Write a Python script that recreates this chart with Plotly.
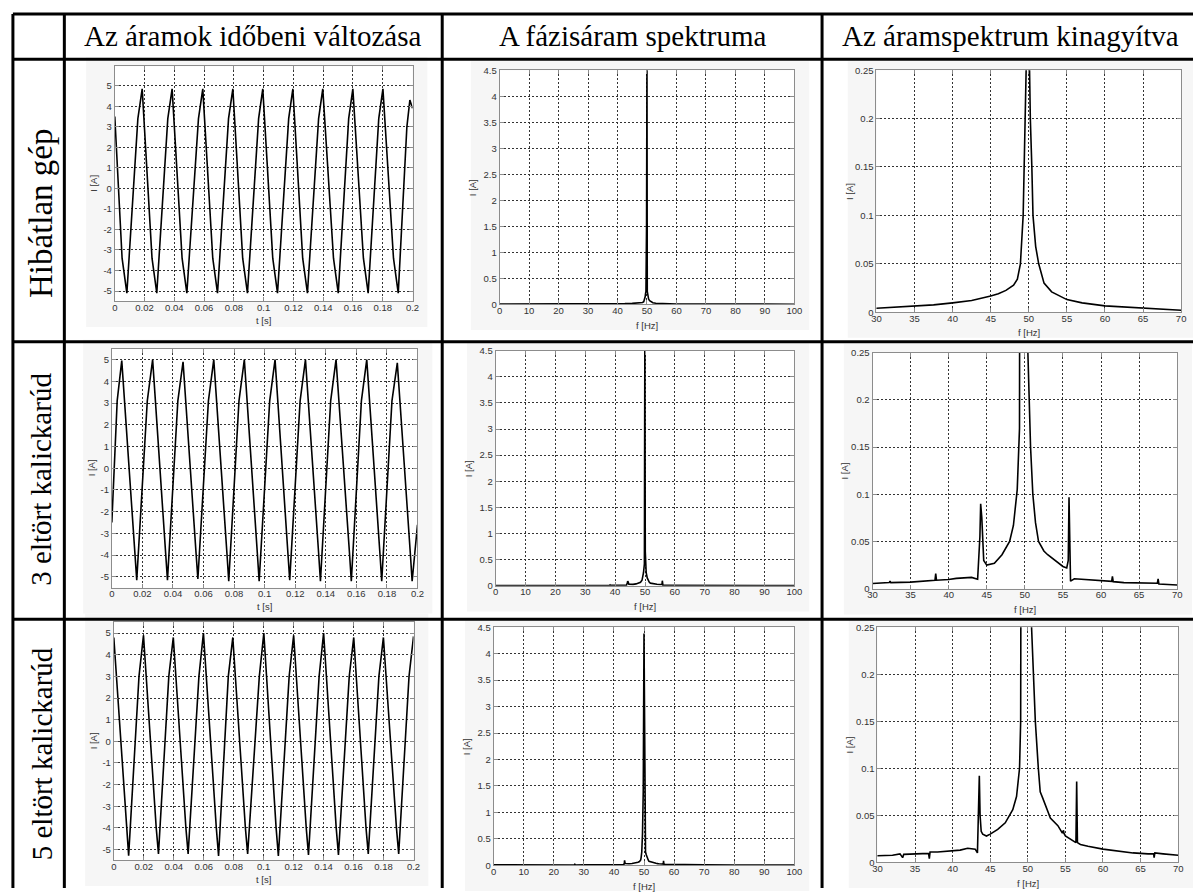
import plotly.graph_objects as go

# ---------------- data ----------------
row_labels = ["Hibátlan gép", "3 eltört kalickarúd", "5 eltört kalickarúd"]
col_headers = ["Az áramok időbeni változása", "A fázisáram spektruma", "Az áramspektrum kinagyítva"]

# time signals (vertices)
t1 = [0, 0.0049, 0.0081,
      0.0155, 0.0184, 0.0250, 0.0282,
      0.0356, 0.0385, 0.0452, 0.0484,
      0.0562, 0.0591, 0.0658, 0.0690,
      0.0764, 0.0793, 0.0859, 0.0891,
      0.0966, 0.0994, 0.1061, 0.1093,
      0.1168, 0.1196, 0.1262, 0.1294,
      0.1369, 0.1397, 0.1469, 0.1501,
      0.1571, 0.1599, 0.1670, 0.1702,
      0.1773, 0.1801, 0.1872, 0.1904,
      0.1962, 0.1982, 0.2]
i1 = [3.5, -3.4, -5.1,
      3.4, 4.85, -3.4, -5.1,
      3.4, 4.85, -3.4, -5.1,
      3.4, 4.85, -3.4, -5.1,
      3.4, 4.85, -3.4, -5.1,
      3.4, 4.85, -3.4, -5.1,
      3.4, 4.85, -3.4, -5.1,
      3.4, 4.85, -3.4, -5.1,
      3.4, 4.85, -3.4, -5.1,
      3.4, 4.85, -3.4, -5.1,
      3.0, 4.3, 3.9]

t2 = [0, 0.0035, 0.0065,
      0.0151, 0.0163, 0.0232, 0.0267,
      0.0352, 0.0364, 0.0432, 0.0466,
      0.0551, 0.0563, 0.0632, 0.0667,
      0.0753, 0.0765, 0.0832, 0.0867,
      0.0952, 0.0964, 0.1033, 0.1068,
      0.1152, 0.1164, 0.1232, 0.1267,
      0.1353, 0.1365, 0.1432, 0.1467,
      0.1555, 0.1567, 0.1633, 0.1668,
      0.1754, 0.1766, 0.1833, 0.1868,
      0.1953, 0.1965, 0.2]
i2 = [-2.5, 3.1, 4.95,
      -3.9, -5.15, 3.1, 5.0,
      -3.9, -5.15, 3.1, 4.9,
      -3.9, -5.1, 3.1, 5.0,
      -3.9, -5.2, 3.1, 5.0,
      -3.9, -5.2, 3.1, 5.0,
      -3.9, -5.15, 3.1, 5.0,
      -3.9, -5.2, 3.1, 5.0,
      -3.9, -5.2, 3.1, 5.0,
      -3.9, -5.2, 3.1, 4.85,
      -3.9, -5.2, -2.6]

t3 = [0, 0.0084, 0.0099,
      0.0168, 0.0198, 0.0283, 0.0298,
      0.0367, 0.0397, 0.0481, 0.0496,
      0.0568, 0.0598, 0.0684, 0.0699,
      0.0764, 0.0794, 0.0878, 0.0893,
      0.0971, 0.1001, 0.1083, 0.1098,
      0.1170, 0.1200, 0.1284, 0.1299,
      0.1370, 0.1400, 0.1484, 0.1499,
      0.1571, 0.1601, 0.1683, 0.1698,
      0.1769, 0.1799, 0.1886, 0.1901,
      0.1970, 0.2]
i3 = [4.8, -4.0, -5.28,
      3.0, 4.9, -4.0, -5.2,
      3.0, 4.8, -4.0, -5.2,
      3.0, 5.0, -4.0, -5.3,
      3.0, 4.8, -4.0, -5.2,
      3.0, 5.0, -4.0, -5.3,
      3.0, 4.9, -4.0, -5.25,
      3.0, 5.0, -4.0, -5.25,
      3.0, 4.8, -4.0, -5.2,
      3.0, 4.8, -4.0, -5.2,
      3.0, 4.85]

# spectra (frequency [Hz], amplitude [A])
f1 = [0, 10, 20, 30, 35, 37.5, 40, 42.5, 45, 46, 47, 48, 48.5, 48.9, 49.26, 49.4, 49.5,
      49.65, 49.85, 50.0, 50.1, 50.2, 50.4, 50.55, 50.9, 51.3, 52, 53, 55, 57, 60, 65, 70, 80, 90, 100]
a1 = [0.004, 0.003, 0.003, 0.004, 0.006, 0.0075, 0.0096, 0.012, 0.0167, 0.019, 0.0225, 0.028, 0.034, 0.05, 0.1, 0.15, 0.2,
      0.25, 1.5, 4.75, 0.25, 0.2, 0.15, 0.1, 0.068, 0.05, 0.03, 0.021, 0.013, 0.0096, 0.0065, 0.004, 0.002, 0.002, 0.002, 0.002]

f2 = [0, 10, 20, 30, 32.2, 32.3, 32.4, 35, 38.2, 38.3, 38.4, 40, 41, 43, 43.8,
      44.1, 44.2, 44.35, 44.6, 45, 46, 47, 48, 48.5, 49, 49.3, 49.5, 49.8, 49.95, 50.1,
      50.25, 50.4, 50.75, 51.05, 51.4, 51.8, 52.5, 53, 54, 55, 55.5, 55.7, 55.8, 55.9, 56.0, 56.5, 58,
      60, 61.4, 61.5, 61.6, 63, 65, 67.4, 67.5, 67.6, 70, 80, 90, 100]
a2 = [0.005, 0.004, 0.004, 0.0056, 0.0065, 0.008, 0.0065, 0.007, 0.009, 0.016, 0.009, 0.0097, 0.011, 0.012, 0.010,
      0.055, 0.09, 0.075, 0.03, 0.025, 0.027, 0.036, 0.05, 0.067, 0.105, 0.17, 0.25, 0.42, 4.8, 0.65,
      0.35, 0.25, 0.15, 0.1, 0.07, 0.05, 0.04, 0.036, 0.03, 0.0236, 0.022, 0.03, 0.097, 0.035, 0.008, 0.0105, 0.0095,
      0.008, 0.0078, 0.013, 0.0075, 0.0065, 0.006, 0.0058, 0.0105, 0.005, 0.004, 0.004, 0.003, 0.003]

f3 = [0, 10, 20, 26.8, 27.0, 27.2, 30, 32, 33, 33.35, 33.5, 35, 36.8, 36.9, 37.0,
      38, 40, 41, 42, 43, 43.3, 43.45, 43.55, 43.65, 43.8, 44, 44.5, 45, 46, 47,
      48, 48.5, 48.9, 49.05, 49.25, 49.5, 49.75, 50.0, 50.25, 50.5, 50.75, 51.0, 51.4, 51.65, 52,
      53, 54, 54.6, 54.75, 54.8, 55, 56, 56.4, 56.5, 56.6, 57, 58, 60, 62, 64,
      66, 66.75, 66.8, 66.9, 68, 70, 80, 90, 100]
a3 = [0.008, 0.005, 0.005, 0.005, 0.02, 0.005, 0.007, 0.0075, 0.009, 0.005, 0.0085, 0.009, 0.0095, 0.004, 0.011,
      0.011, 0.012, 0.013, 0.015, 0.014, 0.010, 0.05, 0.092, 0.05, 0.033, 0.03, 0.028, 0.03, 0.035, 0.042,
      0.056, 0.07, 0.1, 0.15, 0.25, 0.6, 1.4, 4.38, 0.85, 0.25, 0.2, 0.15, 0.1, 0.075, 0.068,
      0.047, 0.039, 0.031, 0.034, 0.031, 0.028, 0.023, 0.021, 0.086, 0.021, 0.019, 0.017, 0.014, 0.012, 0.01,
      0.009, 0.009, 0.005, 0.010, 0.009, 0.0075, 0.005, 0.004, 0.004]

# tick labels
t_ticks = [0, 0.02, 0.04, 0.06, 0.08, 0.1, 0.12, 0.14, 0.16, 0.18, 0.2]
t_ticktext = ["0", "0.02", "0.04", "0.06", "0.08", "0.1", "0.12", "0.14", "0.16", "0.18", "0.2"]
i_ticks = [-5, -4, -3, -2, -1, 0, 1, 2, 3, 4, 5]
i_ticktext = ["-5", "-4", "-3", "-2", "-1", "0", "1", "2", "3", "4", "5"]
f_ticks = [0, 10, 20, 30, 40, 50, 60, 70, 80, 90, 100]
a_ticks = [0, 0.5, 1, 1.5, 2, 2.5, 3, 3.5, 4, 4.5]
a_ticktext = ["0", "0.5", "1", "1.5", "2", "2.5", "3", "3.5", "4", "4.5"]
fz_ticks = [30, 35, 40, 45, 50, 55, 60, 65, 70]
az_ticks = [0, 0.05, 0.1, 0.15, 0.2, 0.25]
az_ticktext = ["0", "0.05", "0.1", "0.15", "0.2", "0.25"]

for a, b in [(t1, i1), (t2, i2), (t3, i3), (f1, a1), (f2, a2), (f3, a3)]:
    assert len(a) == len(b), (len(a), len(b))

times = [(t1, i1), (t2, i2), (t3, i3)]
spectra = [(f1, a1), (f2, a2), (f3, a3)]

# ---------------- layout geometry (pixels) ----------------
W, H = 1201, 893
def X(p): return p / W
def Y(p): return 1 - p / H

# plot-area boxes: (left, right, top, bottom)
boxes = {
    (0, 0): (111, 412, 61, 299), (0, 1): (500, 798, 65, 302), (0, 2): (881, 1189, 65, 310),
    (1, 0): (108, 417, 347, 589), (1, 1): (496, 798, 349, 587), (1, 2): (877, 1185, 351, 590),
    (2, 0): (110, 413, 624, 865), (2, 1): (494, 798, 629, 870), (2, 2): (882, 1186, 629, 867),
}

fig = go.Figure()

sans = "Liberation Sans, Arial, sans-serif"
tickfont = dict(family=sans, size=9.5, color="#333333")
common = dict(showline=True, linecolor="#8c8c8c", linewidth=1, mirror="ticks",
              ticks="inside", ticklen=4, tickcolor="#8c8c8c", tickwidth=1,
              showgrid=True, gridcolor="#333333", griddash="2px,2px", gridwidth=1,
              zeroline=False, tickfont=tickfont, fixedrange=True)

shapes = []
annotations = []
layout_axes = {}

for r in range(3):
    for c in range(3):
        idx = r * 3 + c + 1
        sfx = "" if idx == 1 else str(idx)
        L, R, T, B = boxes[(r, c)]
        if c == 0:
            xs, ys = times[r]
            xr, yr = [0, 0.2], ([-5.5, 5.95] if r == 0 else [-5.5, 5.5])
            xt, xtt, yt, ytt = t_ticks, t_ticktext, i_ticks, i_ticktext
            xtitle = "t [s]"
        elif c == 1:
            xs, ys = spectra[r]
            xr, yr = [0, 100], [0, 4.5]
            xt, xtt, yt, ytt = f_ticks, [str(v) for v in f_ticks], a_ticks, a_ticktext
            xtitle = "f [Hz]"
        else:
            xs, ys = spectra[r]
            xr, yr = [30, 70], [0, 0.25]
            xt, xtt, yt, ytt = fz_ticks, [str(v) for v in fz_ticks], az_ticks, az_ticktext
            xtitle = "f [Hz]"
        fig.add_trace(go.Scatter(x=xs, y=ys, mode="lines", line=dict(color="black", width=1.6),
                                 xaxis="x" + sfx, yaxis="y" + sfx, showlegend=False,
                                 hoverinfo="skip"))
        layout_axes["xaxis" + sfx] = dict(common, domain=[X(L), X(R)], range=xr, anchor="y" + sfx,
                                          tickmode="array", tickvals=xt, ticktext=xtt,
                                          ticklabelstandoff=-3)
        layout_axes["yaxis" + sfx] = dict(common, domain=[Y(B), Y(T)], range=yr, anchor="x" + sfx,
                                          tickmode="array", tickvals=yt, ticktext=ytt,
                                          ticklabelstandoff=0)
        # MATLAB figure grey background and white axes area
        shapes.append(dict(type="rect", xref="paper", yref="paper", layer="below",
                           x0=X(L - 29), x1=X(min(R + 15, W)), y0=Y(B + 26), y1=Y(T - 9),
                           fillcolor="#f6f6f6", line=dict(width=0)))
        shapes.append(dict(type="rect", xref="paper", yref="paper", layer="below",
                           x0=X(L), x1=X(R), y0=Y(B), y1=Y(T),
                           fillcolor="white", line=dict(width=0)))
        # axis titles
        yoff = 21 if c == 0 else 28
        annotations.append(dict(text="I [A]", textangle=-90, x=X(L - yoff), y=Y((T + B) / 2),
                                xref="paper", yref="paper", showarrow=False,
                                xanchor="center", yanchor="middle",
                                font=dict(family=sans, size=9.5, color="#333333")))
        xoff = 19 if c == 0 else 21
        annotations.append(dict(text=xtitle, x=X((L + R) / 2), y=Y(B + xoff),
                                xref="paper", yref="paper", showarrow=False,
                                xanchor="center", yanchor="middle",
                                font=dict(family=sans, size=9.5, color="#333333")))

# table lines
lw = 3
col_lines = [8, 60, 442, 826]
row_lines = [8, 54, 340, 621]
for xl in col_lines:
    shapes.append(dict(type="line", xref="paper", yref="paper", x0=X(xl), x1=X(xl), y0=Y(8), y1=0,
                       line=dict(color="black", width=lw), layer="above"))
for yl in row_lines:
    shapes.append(dict(type="line", xref="paper", yref="paper", x0=X(8), x1=1, y0=Y(yl), y1=Y(yl),
                       line=dict(color="black", width=lw), layer="above"))

serif_family = "Liberation Serif, Times New Roman, serif"
header_x = [251, 634, 1016]
for hx, txt in zip(header_x, col_headers):
    annotations.append(dict(text=txt, x=X(hx), y=Y(30), xref="paper", yref="paper", showarrow=False,
                            xanchor="center", yanchor="middle",
                            font=dict(family=serif_family, size=29, color="black")))
row_centers = [210, 479, 757]
row_sizes = [33, 29, 29]
for ry, rs, txt in zip(row_centers, row_sizes, row_labels):
    annotations.append(dict(text=txt, textangle=-90, x=X(37), y=Y(ry), xref="paper", yref="paper",
                            showarrow=False, xanchor="center", yanchor="middle",
                            font=dict(family=serif_family, size=rs, color="black")))

fig.update_layout(width=W, height=H, margin=dict(l=0, r=0, t=0, b=0, pad=0),
                  paper_bgcolor="white", plot_bgcolor="rgba(0,0,0,0)",
                  showlegend=False, shapes=shapes, annotations=annotations, **layout_axes)

fig.write_html("out.html", config={"displayModeBar": False},
               post_script="document.body.style.margin='0px';document.body.style.overflow='hidden';")
